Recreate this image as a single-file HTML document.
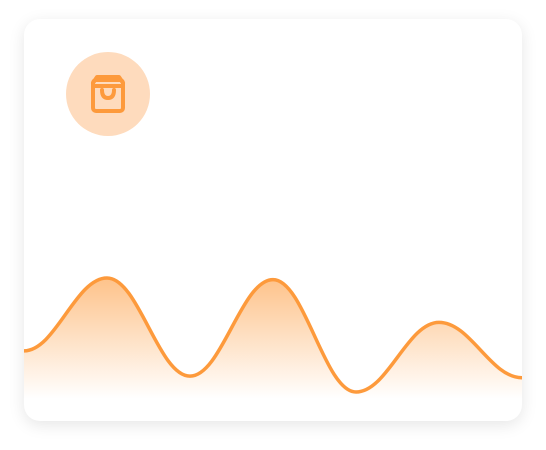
<!DOCTYPE html>
<html><head><meta charset="utf-8"><style>
html,body{margin:0;padding:0;background:#fff;width:546px;height:450px;overflow:hidden;font-family:"Liberation Sans",sans-serif}
#card{position:absolute;left:24px;top:19px;width:498px;height:402px;background:#fff;border-radius:16px;box-shadow:0 4px 16px rgba(0,0,0,0.10);overflow:hidden}
#icon{position:absolute;left:42px;top:33px;width:84px;height:84px;border-radius:50%;background:#fedbbd}
svg{position:absolute;left:0;top:0}
</style></head><body>
<div id="card">
<div id="icon">
<svg width="84" height="84" viewBox="0 0 84 84"><g fill="none" stroke="#fd9a3c" stroke-width="4" stroke-linecap="round" stroke-linejoin="round">
<path d="M27 31 L31 25 H53 L57 31"/>
<rect x="27" y="28" width="30" height="31" rx="3"/>
<line x1="27" y1="34" x2="57" y2="34"/>
<path d="M36 38 Q36 46 42 46 Q48 46 48 38"/>
</g></svg>
</div>
<svg id="chart" width="498" height="402">
<defs><linearGradient id="g" x1="0" y1="0" x2="0" y2="1">
<stop offset="0" stop-color="#fd9a3c" stop-opacity="0.6"/><stop offset="1" stop-color="#fd9a3c" stop-opacity="0"/></linearGradient></defs>
</svg>
</div>
<script>
const values=[26,72,10,71,0,44,9];
const W=498,top0=259,bot0=373,vmin=0,vmax=72;
const svg=document.getElementById('chart');
const x=i=>i*W/(values.length-1);
const y=v=>bot0-(v-vmin)/(vmax-vmin)*(bot0-top0);
let d='M'+x(0)+' '+y(values[0]);
for(let i=1;i<values.length;i++){const x0=x(i-1),x1=x(i),dx=(x1-x0)*0.38;
d+=` C${x0+dx} ${y(values[i-1])} ${x1-dx} ${y(values[i])} ${x1} ${y(values[i])}`;}
const area=document.createElementNS('http://www.w3.org/2000/svg','path');
area.setAttribute('d',d+` L${W} 380 L0 380 Z`);area.setAttribute('fill','url(#g)');


svg.appendChild(area);
const line=document.createElementNS('http://www.w3.org/2000/svg','path');
line.setAttribute('d',d);line.setAttribute('fill','none');line.setAttribute('stroke','#fd9a3c');line.setAttribute('stroke-width','3.5');


svg.appendChild(line);
</script>
</body></html>
